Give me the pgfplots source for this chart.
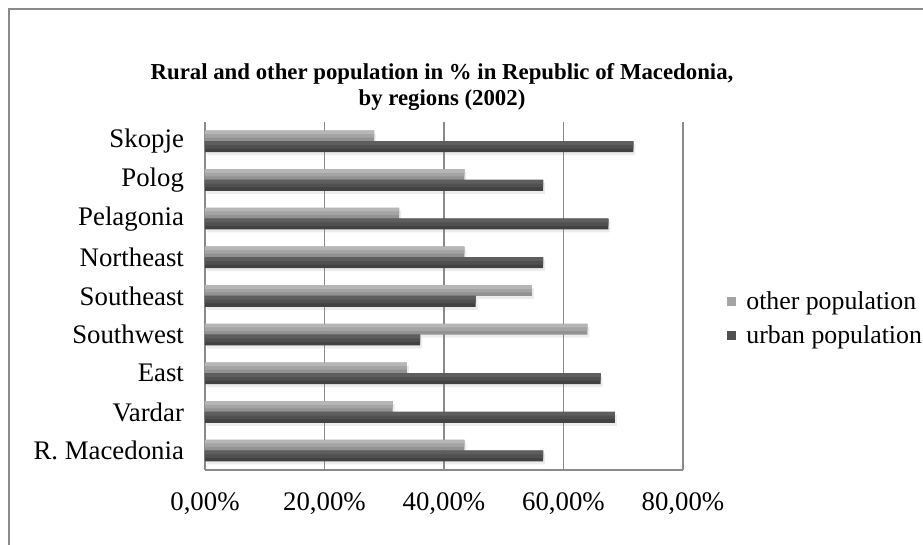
\documentclass[border=0pt]{standalone}
\usepackage{pgfplots}
\pgfplotsset{compat=1.18}
\usepackage{fontspec}
\setmainfont{Liberation Serif}
\usetikzlibrary{shadows}
\definecolor{oA}{HTML}{B6B6B6}
\definecolor{oB}{HTML}{A4A4A4}
\definecolor{oC}{HTML}{929292}
\definecolor{uA}{HTML}{5E5E5E}
\definecolor{uB}{HTML}{505050}
\definecolor{uC}{HTML}{424242}
\definecolor{gridc}{HTML}{8A8A8A}
\pgfplotstableread{
idx other urban
8 28.3 71.7
7 43.4 56.6
6 32.5 67.5
5 43.4 56.6
4 54.7 45.3
3 64.0 36.0
2 33.8 66.2
1 31.4 68.6
0 43.4 56.6
}\datatable
\begin{document}
\begin{tikzpicture}[x=1pt,y=1pt]
\useasboundingbox (0,0) rectangle (461.5,272.5);
\draw[gridc, line width=0.8pt] (4.5,0) -- (4.5,268) -- (461.5,268);
\node[align=center, font=\fontsize{11.4}{13}\selectfont\bfseries] at (221,229)
  {Rural and other population in \% in Republic of Macedonia,\\by regions (2002)};
\begin{axis}[
  at={(102.5pt,37.5pt)}, anchor=south west,
  scale only axis, width=239pt, height=174pt,
  xmin=0, xmax=80, ymin=-0.5, ymax=8.5,
  axis x line*=bottom, axis y line*=left,
  axis line style={gridc, line width=0.8pt, -},
  xtick={0,20,40,60,80},
  xticklabels={{0,00\%},{20,00\%},{40,00\%},{60,00\%},{80,00\%}},
  ytick={0,1,2,3,4,5,6,7,8},
  yticklabels={R. Macedonia,Vardar,East,Southwest,Southeast,Northeast,Pelagonia,Polog,Skopje},
  major tick length=0pt,
  xmajorgrids, major grid style={gridc, line width=0.8pt},
  tick label style={font=\fontsize{13.4}{15}\selectfont},
  xticklabel style={yshift=-8pt},
  yticklabel style={xshift=-7pt},
  legend style={at={(1.0795,0.435)}, anchor=west, draw=none, fill=none,
    font=\fontsize{12.9}{15}\selectfont, row sep=2.5pt,
    legend cell align=left},
]
% other population: base bar + lighter upper stripes
\addplot[xbar, bar width=5.4pt, bar shift=2.7pt, draw=none, fill=oC,
  drop shadow={shadow xshift=1pt, shadow yshift=-1.5pt, opacity=0.15}, forget plot]
  table[x=other, y=idx] {\datatable};
\addplot[xbar, bar width=3.6pt, bar shift=3.6pt, draw=none, fill=oB, forget plot]
  table[x=other, y=idx] {\datatable};
\addplot[xbar, bar width=1.8pt, bar shift=4.5pt, draw=none, fill=oA, forget plot]
  table[x=other, y=idx] {\datatable};
% urban population
\addplot[xbar, bar width=5.4pt, bar shift=-2.7pt, draw=none, fill=uC,
  drop shadow={shadow xshift=1pt, shadow yshift=-1.5pt, opacity=0.15}, forget plot]
  table[x=urban, y=idx] {\datatable};
\addplot[xbar, bar width=3.6pt, bar shift=-1.8pt, draw=none, fill=uB, forget plot]
  table[x=urban, y=idx] {\datatable};
\addplot[xbar, bar width=1.8pt, bar shift=-0.9pt, draw=none, fill=uA, forget plot]
  table[x=urban, y=idx] {\datatable};
% legend entries
\addlegendimage{legend image code/.code={\path[fill=oB, draw=none] (-0.5pt,-2.25pt) rectangle (4pt,2.25pt); \path[draw=none, fill=none] (4pt,0pt) -- (7pt,0pt);}}
\addlegendentry{other population}
\addlegendimage{legend image code/.code={\path[fill=uB, draw=none] (-0.5pt,-2.25pt) rectangle (4pt,2.25pt); \path[draw=none, fill=none] (4pt,0pt) -- (7pt,0pt);}}
\addlegendentry{urban population}
\end{axis}
\end{tikzpicture}
\end{document}
